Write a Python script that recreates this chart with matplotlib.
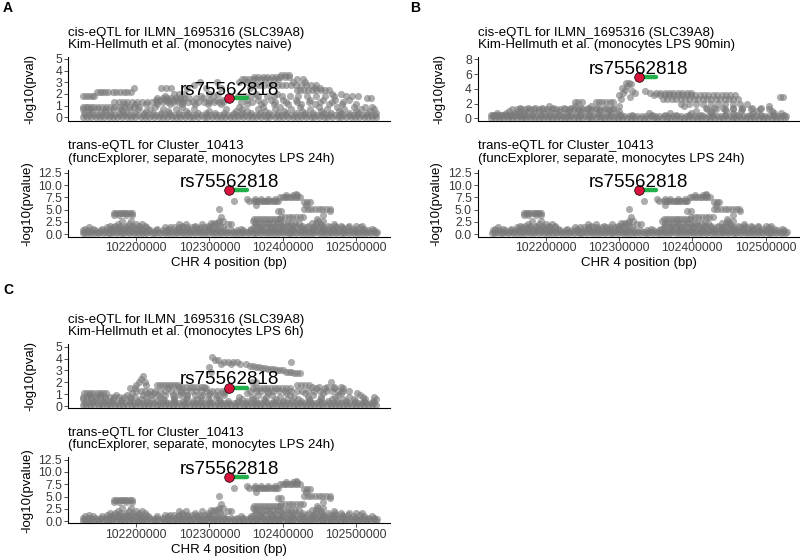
import numpy as np
import matplotlib
matplotlib.use("Agg")
import matplotlib.pyplot as plt
from matplotlib.ticker import FormatStrFormatter

plt.rcParams['font.family'] = ['Liberation Sans', 'DejaVu Sans']

# positions are written as kb past 102 Mb (CHR 4)
REGION_START_KB = 102000

lead_snp = "rs75562818"
lead_pos_kb = 327
gene_end_kb = 351

lead_naive = 1.62
lead_lps90 = 5.55
lead_lps6h = 1.55
lead_trans = 8.9

# each row: (-log10 p, [positions])
naive_rows = [
    (0.05, [127, 133, 138, 145, 151, 156, 163, 169, 174, 181, 188, 193, 199, 206, 212, 217, 224, 231, 236, 242, 249, 255,
            260, 267, 273, 278, 285, 292, 297, 303, 310, 316, 321, 328, 334, 339, 346, 353, 358, 364, 371, 377, 382, 389,
            395, 400, 407, 414, 419, 425, 432, 438, 443, 450, 456, 461, 468, 475, 480, 486, 493, 499, 504, 511, 517, 522, 528]),
    (0.2, [130, 136, 142, 148, 154, 160, 166, 171, 178, 184, 190, 196, 203, 209, 215, 221, 227, 233, 239, 246, 252, 258,
           264, 270, 276, 282, 288, 295, 301, 307, 313, 319, 325, 331, 337, 343, 349, 356, 362, 368, 374, 380, 386, 392,
           398, 404, 411, 417, 423, 429, 435, 441, 447, 453, 459, 465, 471, 477, 483, 490, 496, 502, 508, 514, 520, 526]),
    (0.38, [129, 140, 152, 165, 177, 186, 198, 211, 223, 234, 245, 259, 271, 284, 296, 308, 320, 333, 344, 357, 369, 381,
            393, 405, 418, 430, 442, 455, 466, 479, 491, 503, 515, 527]),
    (0.55, [135, 158, 182, 214, 243, 268, 300, 336, 351, 376, 402, 427, 452, 477, 500, 519]),
    (0.75, [128, 137, 146, 157, 168, 180, 191, 203, 219, 237, 255, 279, 322, 345, 366, 389, 412, 437, 461, 484, 507, 525]),
    (0.92, [127, 131, 134, 139, 143, 148, 153, 159, 164, 170, 176, 183, 190, 197, 204, 226, 262, 341, 373, 396, 423, 449,
            474, 498, 513, 522]),
    (1.1, [185, 198, 213, 229, 246, 263, 281, 298, 316, 352, 370, 388, 407, 425, 444, 463, 481, 500]),
    (1.3, [170, 176, 182, 188, 194, 201, 208, 215, 222, 229, 236, 243, 250, 257, 264, 271, 278, 285, 292, 299, 306, 313,
           319, 343, 358, 374, 389, 405, 420, 436, 451, 467, 482]),
    (1.5, [227, 233, 239, 244, 250, 256, 262, 300, 309, 317, 351, 366, 384, 401, 418, 437, 455, 472, 490]),
    (1.65, [229, 236, 242, 248, 254, 260, 266, 272, 282, 291, 515, 521]),
    (1.8, [128, 132, 136, 140, 143, 240, 289, 305, 339, 348, 357, 367, 378, 388, 399, 410, 421, 433, 445, 458, 470, 487,
           495, 503]),
    (2.0, [251, 258, 265, 299, 312, 363, 392, 468, 479]),
    (2.15, [146, 150, 154, 158, 162, 169, 173, 178, 183, 188, 193]),
    (2.3, [419, 424, 429, 434, 440, 446, 452, 458, 463]),
    (2.5, [197, 234, 241, 248, 270, 296, 316, 355, 444, 451]),
    (2.75, [279, 357, 363, 369, 375, 381, 387, 393, 399, 405, 411, 418, 425, 432, 439, 446]),
    (3.0, [287, 310, 340, 352, 414, 430]),
    (3.25, [344, 349, 354, 359, 364, 370, 376, 382, 388, 394, 420, 428]),
    (3.45, [361, 367, 373, 379, 385, 391, 397, 403, 409]),
    (3.65, [398, 403, 408]),
]

lps90_rows = [
    (0.1, [125, 131, 136, 142, 149, 154, 160, 167, 172, 178, 185, 190, 196, 203, 208, 214, 221, 226, 232, 239, 244, 250,
           257, 262, 268, 275, 280, 286, 293, 298, 304, 311, 316, 322, 329, 334, 340, 347, 352, 358, 365, 370, 376, 383,
           388, 394, 401, 406, 412, 419, 424, 430, 437, 442, 448, 455, 460, 466, 473, 478, 484, 491, 496, 502, 509, 514,
           520, 527]),
    (0.3, [128, 134, 139, 145, 151, 157, 163, 169, 175, 181, 187, 193, 199, 205, 211, 217, 223, 229, 235, 241, 247, 253,
           259, 265, 271, 277, 283, 289, 295, 301, 307, 313, 319, 325, 331, 337, 343, 349, 355, 361, 367, 373, 379, 385,
           391, 397, 403, 409, 415, 421, 427, 433, 439, 445, 451, 457, 463, 469, 475, 481, 487, 493, 499, 505, 511, 517,
           523, 528]),
    (0.5, [125, 128, 131, 134, 137, 140, 143, 147, 151, 155, 159, 163, 167, 172, 181, 193, 206, 219, 233, 246, 260, 274,
           288, 303, 318, 345, 362, 378, 395, 412, 428, 445, 461, 478, 494, 510, 525]),
    (0.72, [133, 146, 158, 170, 184, 198, 212, 227, 241, 255, 270, 284, 297, 341, 369, 398, 426, 455, 483, 512, 521]),
    (0.95, [150, 163, 176, 190, 204, 218, 232, 246, 260, 274, 288, 300, 405, 425, 446, 467, 488, 509]),
    (1.2, [154, 160, 166, 172, 178, 184, 190, 196, 202, 208, 214, 220, 226, 232, 238, 244, 250, 256, 262, 268, 274, 280,
           286, 292, 420, 432, 444, 456, 468, 480, 492, 504]),
    (1.45, [165, 175, 185, 195, 210, 225, 235, 248, 258, 270, 282, 292, 418, 430, 442, 455, 468, 481, 494]),
    (1.7, [205, 240, 262, 300, 388, 505]),
    (2.0, [385, 395, 405, 415, 425, 435, 445, 455, 465, 475]),
    (2.15, [240, 244, 249, 268, 272, 277, 282, 287, 292]),
    (2.65, [302, 360, 366, 372, 378, 384, 390, 396, 402, 408, 414, 420, 426, 432, 438, 444, 450, 456, 462]),
    (2.95, [315, 520, 524]),
    (3.1, [300, 348, 356, 362, 368, 374, 380, 386, 392, 398, 404, 410, 416, 422, 428, 434, 440, 446, 452, 458]),
    (3.4, [306, 322, 342, 350, 356, 362, 368, 374, 380, 386, 392, 398]),
    (3.7, [318, 336]),
    (3.9, [308]),
    (4.1, [304]),
    (4.35, [311]),
    (4.6, [316]),
    (4.8, [309, 313]),
]

lps6h_rows = [
    (0.08, [127, 132, 137, 143, 149, 154, 160, 165, 171, 177, 182, 188, 194, 199, 205, 211, 216, 222, 228, 233, 239, 245,
            250, 256, 262, 267, 273, 279, 284, 290, 296, 301, 307, 313, 318, 324, 330, 335, 341, 347, 352, 358, 364, 369,
            375, 381, 386, 392, 398, 403, 409, 415, 420, 426, 432, 437, 443, 449, 454, 460, 466, 471, 477, 483, 488, 494,
            500, 505, 511, 517, 522, 528]),
    (0.25, [129, 135, 140, 146, 152, 157, 163, 168, 174, 180, 185, 191, 197, 202, 208, 214, 219, 225, 231, 236, 242, 248,
            253, 259, 265, 270, 276, 282, 287, 293, 299, 304, 310, 316, 321, 327, 333, 338, 344, 350, 355, 361, 367, 372,
            378, 384, 389, 395, 401, 406, 412, 418, 423, 429, 435, 440, 446, 452, 457, 463, 469, 474, 480, 486, 491, 497,
            503, 508, 514, 520, 525]),
    (0.42, [131, 142, 155, 166, 179, 190, 203, 215, 228, 240, 252, 264, 277, 289, 301, 314, 326, 339, 351, 363, 376, 388,
            400, 413, 425, 437, 450, 462, 474, 487, 499, 511, 523]),
    (0.6, [128, 138, 147, 158, 169, 181, 193, 207, 222, 237, 252, 268, 283, 298, 313, 345, 360, 375, 391, 406, 421, 436,
           452, 467, 482, 497, 513, 527]),
    (0.78, [128, 133, 139, 145, 151, 157, 164, 170, 177, 184, 191, 198, 214, 232, 251, 270, 289, 309, 340, 358, 377, 396,
            415, 434, 453, 472, 491, 510, 525]),
    (0.95, [136, 150, 172, 188, 210, 220, 230, 240, 250, 260, 270, 280, 290, 300, 310, 320, 366, 386, 410, 442, 476, 506]),
    (1.1, [129, 133, 137, 141, 146, 150, 155, 159, 194, 216, 225, 262, 301, 318, 352, 380, 405, 430, 455, 480, 502]),
    (1.3, [200, 206, 212, 219, 226, 233, 240, 247, 254, 261, 268, 275, 282, 289, 296, 303, 310, 317, 322, 356, 363, 371,
           379, 387, 395, 403, 411, 419, 427, 435, 443, 451, 459, 467, 475, 483, 491]),
    (1.5, [192, 198, 243, 296, 359, 364, 369, 374, 379, 384, 389, 394, 399, 404, 410, 446, 458, 470, 482]),
    (1.62, [259, 263, 268, 273, 278, 283, 288, 293, 440, 450, 460, 470, 480]),
    (1.8, [200, 214, 229, 233, 237, 241, 245, 249, 253, 257, 420, 425, 430, 436]),
    (2.05, [204, 212, 358, 364, 466]),
    (2.25, [207]),
    (2.5, [210]),
    (2.8, [416, 420, 424]),
    (2.9, [302, 404, 408, 412]),
    (3.0, [392, 396, 400]),
    (3.1, [380, 384, 388]),
    (3.2, [372, 376]),
    (3.3, [300, 364, 368]),
    (3.4, [356, 360]),
    (3.5, [316, 330, 342, 350]),
    (3.7, [320, 325, 332, 338, 411]),
    (3.85, [308, 312]),
    (4.1, [304]),
]

trans_rows = [
    (0.15, [127, 131, 137, 142, 148, 155, 161, 166, 172, 179, 184, 190, 197, 203, 208, 214, 221, 226, 232, 239, 245, 250,
            256, 263, 268, 274, 281, 287, 292, 298, 305, 311, 316, 322, 329, 335, 340, 346, 353, 359, 364, 370, 377, 383,
            388, 394, 401, 407, 412, 418, 425, 431, 436, 442, 449, 455, 460, 466, 473, 479, 484, 490, 497, 503, 508, 514,
            521, 527]),
    (0.45, [129, 134, 140, 146, 151, 157, 163, 169, 175, 181, 187, 193, 200, 206, 212, 218, 224, 230, 236, 242, 248, 254,
            260, 266, 272, 278, 284, 290, 296, 302, 308, 314, 320, 326, 332, 338, 344, 350, 356, 362, 368, 374, 380, 386,
            392, 398, 404, 410, 416, 422, 428, 434, 440, 446, 452, 458, 464, 470, 476, 482, 488, 494, 500, 506, 512, 518,
            524, 529]),
    (0.75, [128, 136, 144, 152, 159, 167, 176, 185, 193, 202, 210, 219, 227, 236, 244, 253, 261, 270, 278, 287, 295, 304,
            312, 321, 329, 338, 346, 355, 363, 372, 380, 389, 397, 406, 414, 423, 431, 440, 448, 457, 465, 474, 482, 491,
            499, 508, 516, 525]),
    (1.05, [130, 141, 153, 164, 172, 181, 189, 198, 206, 216, 229, 243, 257, 271, 285, 299, 310, 343, 357, 371, 385, 399,
            413, 427, 441, 455, 469, 483, 497, 511, 522]),
    (1.35, [135, 160, 168, 177, 186, 195, 204, 213, 240, 246, 252, 258, 264, 270, 276, 282, 288, 294, 300, 306, 318, 361,
            369, 377, 385, 393, 401, 409, 417, 425, 433, 441, 449, 457, 465, 473, 481, 489, 505]),
    (1.65, [165, 171, 178, 186, 196, 204, 212, 262, 280, 298, 314, 363, 372, 381, 390, 399, 408, 417, 426, 435, 444, 453,
            462, 471, 480, 490, 500, 508]),
    (2.0, [175, 190, 200, 208, 258, 268, 290, 305, 325, 330, 452, 470]),
    (2.3, [302, 308, 312, 362, 367, 372, 377, 382, 387, 392, 397, 402, 407, 412, 417, 422, 440, 446]),
    (2.65, [181, 193, 313, 319, 359, 448, 455]),
    (3.1, [361, 365, 369, 373, 377, 381, 385, 389, 393, 397, 447]),
    (3.55, [316, 398, 403, 408, 413, 418, 423, 428]),
    (3.95, [170, 176, 186, 194, 455]),
    (4.3, [170, 173, 176, 179, 182, 185, 188, 191, 194]),
    (4.8, [393, 398, 465]),
    (5.2, [313, 429, 434, 439, 444, 449, 454, 459, 464]),
    (6.0, [363, 432]),
    (6.45, [429, 433, 437]),
    (6.75, [334, 354, 361, 364, 367, 370, 373, 376, 379, 382, 385, 388, 391, 393]),
    (7.05, [352, 362, 370, 380, 390]),
    (7.6, [397, 400, 403, 406, 410, 413, 417, 420, 424]),
    (7.9, [404, 414, 419]),
    (8.15, [418]),
]

x_ticks_bp = [102200000, 102300000, 102400000, 102500000]
cis_title = "cis-eQTL for ILMN_1695316 (SLC39A8)"
trans_title = "trans-eQTL for Cluster_10413"
trans_sub = "(funcExplorer, separate, monocytes LPS 24h)"
cis_subs = ["Kim-Hellmuth et al. (monocytes naive)",
            "Kim-Hellmuth et al. (monocytes LPS 90min)",
            "Kim-Hellmuth et al. (monocytes LPS 6h)"]

W, H = 800, 559
fig = plt.figure(figsize=(W / 100, H / 100), dpi=100)


def expand(rows):
    pos, val = [], []
    for v, ps in rows:
        pos += ps
        val += [v] * len(ps)
    return (REGION_START_KB + np.array(pos)) * 1000, np.array(val)


def add_panel(left, top, height, rows, lead_val, yticks, ylim, ylabel, line1, line2, fmt, show_x):
    width = 322
    ax = fig.add_axes([left / W, 1 - (top + height) / H, width / W, height / H])
    x, y = expand(rows)
    ax.scatter(x, y, s=26, c='#7a7a7a', alpha=0.62, linewidths=0, zorder=2)
    lead_x = (REGION_START_KB + lead_pos_kb) * 1000
    ax.plot([lead_x, (REGION_START_KB + gene_end_kb) * 1000], [lead_val, lead_val],
            color='#21b04b', lw=3.2, solid_capstyle='round', zorder=3)
    ax.scatter([lead_x], [lead_val], s=48, c='#d7143c', edgecolors='black', linewidths=0.5, zorder=4)
    ax.annotate(lead_snp, (lead_x, lead_val), xytext=(0, 2.5), textcoords='offset points',
                ha='center', va='baseline', fontsize=13.5, zorder=5)

    ax.set_xlim(102107000, 102546500)
    ax.set_ylim(*ylim)
    ax.set_yticks(yticks)
    ax.yaxis.set_major_formatter(FormatStrFormatter(fmt))
    ax.set_xticks(x_ticks_bp)
    for s in ['top', 'right']:
        ax.spines[s].set_visible(False)
    for s in ['left', 'bottom']:
        ax.spines[s].set_linewidth(0.8)
    ax.tick_params(axis='both', length=2.7, width=0.6, color='#333333', labelsize=8.8,
                   labelcolor='#3a3a3a', pad=1.5)
    if show_x:
        ax.set_xticklabels([str(t) for t in x_ticks_bp])
        ax.set_xlabel('CHR 4 position (bp)', fontsize=9.5, labelpad=2)
    else:
        ax.tick_params(axis='x', length=0, labelbottom=False)
    ax.set_ylabel(ylabel, fontsize=9.5)
    ax.yaxis.set_label_coords(-(32 if ylabel.endswith('pval)') else 35) / width, 0.5)

    fig.text(left / W, 1 - (top - 21) / H, line1, fontsize=9.5, va='baseline', ha='left')
    fig.text(left / W, 1 - (top - 8.7) / H, line2, fontsize=9.5, va='baseline', ha='left')
    return ax


cis_h = 64.1
trans_h = 66.2
trans_ticks = [0, 2.5, 5, 7.5, 10, 12.5]

# A
add_panel(68, 56.6, cis_h, naive_rows, lead_naive, [0, 1, 2, 3, 4, 5], (-0.29, 5.2),
          '-log10(pval)', cis_title, cis_subs[0], '%d', False)
add_panel(68, 170.3, trans_h, trans_rows, lead_trans, trans_ticks, (-0.5, 13.0),
          '-log10(pvalue)', trans_title, trans_sub, '%.1f', True)
# B
add_panel(477.7, 56.6, cis_h, lps90_rows, lead_lps90, [0, 2, 4, 6, 8], (-0.33, 8.37),
          '-log10(pval)', cis_title, cis_subs[1], '%d', False)
add_panel(477.7, 170.3, trans_h, trans_rows, lead_trans, trans_ticks, (-0.5, 13.0),
          '-log10(pvalue)', trans_title, trans_sub, '%.1f', True)
# C
add_panel(68, 344.2, cis_h, lps6h_rows, lead_lps6h, [0, 1, 2, 3, 4, 5], (-0.19, 5.21),
          '-log10(pval)', cis_title, cis_subs[2], '%d', False)
add_panel(68, 457.1, trans_h, trans_rows, lead_trans, trans_ticks, (-0.4, 13.0),
          '-log10(pvalue)', trans_title, trans_sub, '%.1f', True)

for letter, lx, ly in [('A', 3, 11.7), ('B', 410, 11.7), ('C', 3, 294)]:
    fig.text(lx / W, 1 - ly / H, letter, fontsize=10, fontweight='bold', va='baseline')

fig.savefig('out.png', dpi=100)
